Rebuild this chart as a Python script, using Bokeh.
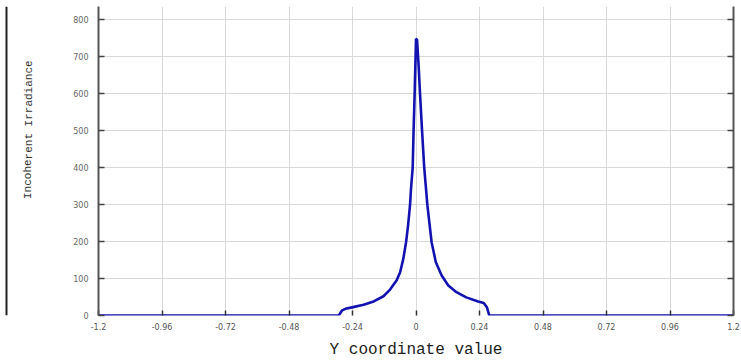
from bokeh.plotting import figure
from bokeh.layouts import row
from bokeh.models import FixedTicker, LinearAxis, Range1d, Label, Span, CustomJSTickFormatter
from bokeh.embed import file_html
from bokeh.resources import INLINE

# Data
y_coord = [-1.2, -0.292, -0.279, -0.267, -0.242, -0.198, -0.16, -0.123, -0.098, -0.073,
           -0.060, -0.048, -0.0376, -0.030, -0.0226, -0.019, -0.0125, -0.009, -0.005,
           0.0, 0.004, 0.010, 0.015, 0.0226, 0.031, 0.043, 0.059, 0.075, 0.097, 0.122,
           0.153, 0.19, 0.235, 0.256, 0.268, 0.277, 1.2]
irradiance = [0, 0, 14, 18, 22, 29, 38, 52, 70, 95,
              117, 153, 198, 243, 298, 341, 400, 503, 602,
              748, 745, 674, 602, 503, 400, 298, 198, 144, 108, 81,
              63, 49, 38, 34, 22, 0, 0]

x_ticks = [-1.2, -0.96, -0.72, -0.48, -0.24, 0, 0.24, 0.48, 0.72, 0.96, 1.2]
x_tick_labels = ["-1.2", "-0.96", "-0.72", "-0.48", "-0.24", "0", "0.24", "0.48", "0.72", "0.96", "1.2"]
y_ticks = [0, 100, 200, 300, 400, 500, 600, 700, 800]

x_title = "Y coordinate value"
y_title = "Incoherent Irradiance"

LEFT_W = 40
TOTAL_W, TOTAL_H = 741, 361
FRAME_TOP, FRAME_BOTTOM = 6, 317

# narrow side panel holding the rotated y title and the dark left frame line
# (its frame is aligned with the main plot's frame; y is measured as TOTAL_H - pixel row)
side = figure(width=LEFT_W, height=TOTAL_H, output_backend="svg", toolbar_location=None,
              x_range=Range1d(0, LEFT_W),
              y_range=Range1d(TOTAL_H - FRAME_BOTTOM, TOTAL_H - FRAME_TOP),
              x_axis_type=None, y_axis_type=None, min_border=0)
side.outline_line_color = None
side.grid.visible = False
side.add_layout(Span(location=6, dimension="height", line_color="#222222", line_width=2))
side.add_layout(Label(x=28, y=TOTAL_H - 130, text=y_title, angle=1.5707963,
                      text_align="center", text_baseline="middle",
                      text_font="Liberation Mono", text_font_size="11px", text_color="#333333"))

p = figure(width=TOTAL_W - LEFT_W, height=TOTAL_H, output_backend="svg", toolbar_location=None,
           x_range=Range1d(-1.2, 1.2), y_range=Range1d(0, 835),
           min_border_left=98 - LEFT_W, min_border_right=8,
           min_border_top=FRAME_TOP, min_border_bottom=TOTAL_H - FRAME_BOTTOM)
p.outline_line_color = None
p.background_fill_color = "white"
p.border_fill_color = "white"

p.line(y_coord, irradiance, line_color="#1212b0", line_width=2.6)

tick_font = "DejaVu Sans"
# bottom axis
xa = p.xaxis[0]
xa.ticker = FixedTicker(ticks=x_ticks)
xa.major_label_overrides = dict(zip(x_ticks, x_tick_labels))
xa.axis_line_color = None
xa.major_tick_in = 5
xa.major_tick_out = 0
xa.minor_tick_line_color = None
xa.major_tick_line_color = "#333333"
xa.major_tick_line_width = 1.5
xa.major_label_text_font = tick_font
xa.major_label_text_font_size = "8px"
xa.major_label_text_color = "#555555"
xa.major_label_standoff = 7
xa.axis_label = x_title
xa.axis_label_text_font = "Liberation Mono"
xa.axis_label_text_font_size = "16px"
xa.axis_label_text_font_style = "normal"
xa.axis_label_text_color = "#222222"
xa.axis_label_standoff = 8

# left axis
ya = p.yaxis[0]
ya.ticker = FixedTicker(ticks=y_ticks)
ya.axis_line_color = "#555555"
ya.axis_line_width = 2
ya.major_tick_in = 6
ya.major_tick_out = 0
ya.minor_tick_line_color = None
ya.major_tick_line_color = "#444444"
ya.major_tick_line_width = 1.5
ya.major_label_text_font = tick_font
ya.major_label_text_font_size = "8px"
ya.major_label_text_color = "#666666"
ya.major_label_standoff = 10

# right axis (no labels)
ra = LinearAxis(ticker=FixedTicker(ticks=y_ticks),
                formatter=CustomJSTickFormatter(code="return ''"))
ra.axis_line_color = "#555555"
ra.axis_line_width = 2
ra.major_tick_in = 6
ra.major_tick_out = 0
ra.minor_tick_line_color = None
ra.major_tick_line_color = "#444444"
ra.major_tick_line_width = 1.5
ra.major_label_standoff = 0
p.add_layout(ra, "right")

p.xgrid.ticker = FixedTicker(ticks=x_ticks)
p.ygrid.ticker = FixedTicker(ticks=y_ticks)
p.xgrid.grid_line_color = "#d9d9d9"
p.ygrid.grid_line_color = "#d9d9d9"
p.xgrid.grid_line_width = 1
p.ygrid.grid_line_width = 1

layout = row(side, p, spacing=0)
open("out.html", "w").write(file_html(layout, INLINE))
